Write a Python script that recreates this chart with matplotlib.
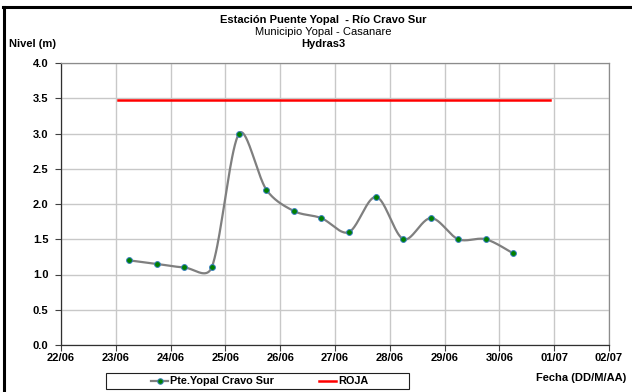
import numpy as np
import pandas as pd
import matplotlib
matplotlib.use("Agg")
import matplotlib.pyplot as plt
import matplotlib.dates as mdates
from matplotlib.lines import Line2D
from matplotlib.patches import Rectangle

plt.rcParams['font.family'] = ['Liberation Sans', 'DejaVu Sans']

# ---- data ----
times = pd.to_datetime([
    "2013-06-23 06:00", "2013-06-23 18:00", "2013-06-24 06:00", "2013-06-24 18:00",
    "2013-06-25 06:00", "2013-06-25 18:00", "2013-06-26 06:00", "2013-06-26 18:00",
    "2013-06-27 06:00", "2013-06-27 18:00", "2013-06-28 06:00", "2013-06-28 18:00",
    "2013-06-29 06:00", "2013-06-29 18:00", "2013-06-30 06:00"])
nivel = [1.2, 1.15, 1.1, 1.1, 3.0, 2.2, 1.9, 1.8, 1.6, 2.1, 1.5, 1.8, 1.5, 1.5, 1.3]
roja_times = pd.to_datetime(["2013-06-23 01:00", "2013-06-30 22:00"])
roja_level = [3.47, 3.47]
xtick_dates = pd.date_range("2013-06-22", "2013-07-02", freq="D")
xtick_labels = [d.strftime("%d/%m") for d in xtick_dates]
serie_name = "Pte.Yopal Cravo Sur"
roja_name = "ROJA"

AX_W, AX_H = 548, 282          # axes size in pixels
X_SPAN, Y_SPAN = 10.0, 4.0     # data span


def smooth(x, y, n=40):
    # Excel-like smoothed line: Bezier segments with 1/6 tangents, handles
    # shortened next to much longer neighbouring segments (in screen space)
    sx_ = AX_W / X_SPAN; sy_ = AX_H / Y_SPAN
    P = np.column_stack([np.asarray(x, float) * sx_, np.asarray(y, float) * sy_])
    m = len(P)
    Pe = np.vstack([P[0], P, P[-1]])
    d = np.linalg.norm(np.diff(P, axis=0), axis=1)
    out = []
    t = np.linspace(0, 1, n)[:, None]
    for i in range(m - 1):
        p0, p3 = P[i], P[i + 1]
        tan0 = (Pe[i + 2] - Pe[i]) / 6.0
        tan1 = (Pe[i + 3] - Pe[i + 1]) / 6.0
        dprev = d[i - 1] if i > 0 else d[i]
        dnext = d[i + 1] if i + 1 < m - 1 else d[i]
        f0 = min(1.0, np.sqrt(2 * d[i] / (dprev + d[i])))
        f1 = min(1.0, np.sqrt(2 * d[i] / (dnext + d[i])))
        c1 = p0 + tan0 * f0
        c2 = p3 - tan1 * f1
        b = (1 - t) ** 3 * p0 + 3 * (1 - t) ** 2 * t * c1 + 3 * (1 - t) * t ** 2 * c2 + t ** 3 * p3
        out.append(b)
    B = np.vstack(out)
    return B[:, 0] / sx_, B[:, 1] / sy_


fig = plt.figure(figsize=(6.32, 3.92), dpi=100)
ax = fig.add_axes([61 / 632, 47 / 392, AX_W / 632, AX_H / 392])

x0 = mdates.date2num(xtick_dates[0])
xn = mdates.date2num(times)
sx, sy = smooth(xn - x0, nivel)
ax.plot(sx + x0, sy, color='#7f7f7f', lw=1.6, zorder=3)
ax.plot(xn, nivel, ls='none', marker='o', ms=4.2, mfc='#008000', mec='#3a7fc0', mew=0.7, zorder=4)
ax.plot(mdates.date2num(roja_times), roja_level, color='#ff0000', lw=1.8, zorder=3)

ax.set_xlim(x0, mdates.date2num(xtick_dates[-1]))
ax.set_ylim(0, 4.0)
ax.set_xticks(mdates.date2num(xtick_dates))
ax.set_xticklabels(xtick_labels)
ax.set_yticks(np.arange(0, 4.01, 0.5))
ax.set_yticklabels([f"{v:.1f}" for v in np.arange(0, 4.01, 0.5)])
ax.grid(True, color='#c8c8c8', lw=1.0, zorder=0)
ax.set_axisbelow(True)
for lab in ax.get_xticklabels() + ax.get_yticklabels():
    lab.set_fontweight('bold'); lab.set_fontsize(8)
ax.tick_params(axis='both', length=4, width=0.8, color='#404040', direction='out')
ax.tick_params(axis='x', pad=1.5)
ax.tick_params(axis='y', pad=5)
for s in ['left', 'bottom']:
    ax.spines[s].set_color('#303030'); ax.spines[s].set_linewidth(0.9)
for s in ['top', 'right']:
    ax.spines[s].set_color('#8c8c8c'); ax.spines[s].set_linewidth(0.9)

# titles
fig.text(323 / 632, 1 - 20 / 392, "Estación Puente Yopal  - Río Cravo Sur", ha='center', va='center',
         fontsize=8, fontweight='bold')
fig.text(323 / 632, 1 - 32 / 392, "Municipio Yopal - Casanare", ha='center', va='center', fontsize=8)
fig.text(323 / 632, 1 - 44 / 392, "Hydras3", ha='center', va='center', fontsize=8, fontweight='bold')
fig.text(9 / 632, 1 - 44 / 392, "Nivel (m)", ha='left', va='center', fontsize=8, fontweight='bold')
fig.text(626 / 632, 1 - 378 / 392, "Fecha (DD/M/AA)", ha='right', va='center', fontsize=8, fontweight='bold')

# legend (drawn manually in pixel-based figure coordinates)
def fx(px): return px / 632
def fy(py): return 1 - py / 392

fig.add_artist(Rectangle((fx(106), fy(389)), fx(409) - fx(106), fy(373) - fy(389),
                         transform=fig.transFigure, fill=False, edgecolor='#202020', lw=0.8))
ly = 381
fig.add_artist(Line2D([fx(151), fx(168)], [fy(ly), fy(ly)], color='#7f7f7f', lw=1.6, transform=fig.transFigure))
fig.add_artist(Line2D([fx(159.5)], [fy(ly)], ls='none', marker='o', ms=4, mfc='#008000', mec='#3a7fc0',
                      mew=0.7, transform=fig.transFigure))
fig.text(fx(170), fy(ly), serie_name, ha='left', va='center', fontsize=7.8, fontweight='bold')
fig.add_artist(Line2D([fx(319), fx(336)], [fy(ly), fy(ly)], color='#ff0000', lw=1.8, transform=fig.transFigure))
fig.text(fx(338), fy(ly), roja_name, ha='left', va='center', fontsize=7.8, fontweight='bold')

# outer border lines (chart frame)
fig.add_artist(Line2D([fx(3), 1], [fy(7), fy(7)], color='black', lw=2.2, transform=fig.transFigure))
fig.add_artist(Line2D([fx(4), fx(4)], [0, fy(7)], color='black', lw=2.2, transform=fig.transFigure))

fig.savefig("out.png", dpi=100)
